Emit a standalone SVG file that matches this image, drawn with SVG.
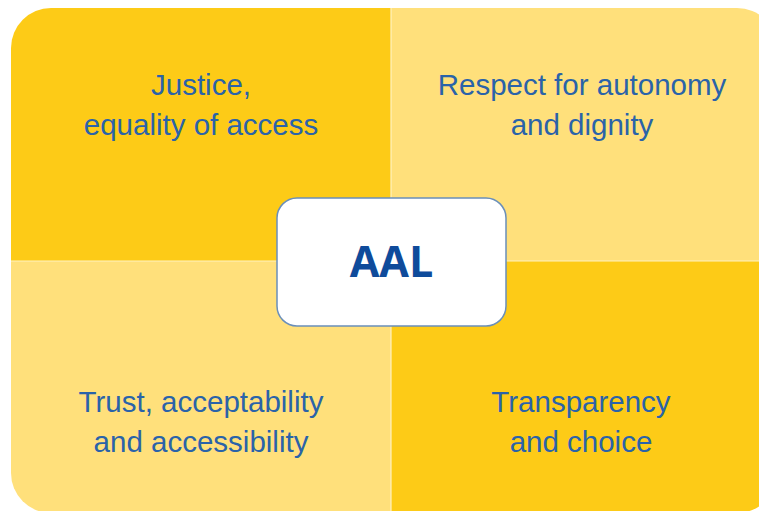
<svg xmlns="http://www.w3.org/2000/svg" width="759" height="511" viewBox="0 0 759 511">
  <defs>
    <clipPath id="outer">
      <rect x="11" y="8" width="766" height="505" rx="40" ry="40"/>
    </clipPath>
    <style>
      .dark { fill: #FDCB17; }
      .light { fill: #FFE07B; }
      .lbl { font-family: "Liberation Sans", Arial, sans-serif; font-size: 29.5px; fill: #2A63A9; text-anchor: middle; }
      .div { stroke: #FFF1C0; stroke-width: 1.2; }
      .center { fill: #FFFFFF; stroke: #6A8FBA; stroke-width: 1.5; }
      .title { font-family: "Open Sans", "Liberation Sans", Arial, sans-serif; font-weight: bold; font-size: 43px; fill: #0F4B9B; text-anchor: middle; }
    </style>
  </defs>
  <rect width="759" height="511" fill="#FFFFFF"/>
  <g clip-path="url(#outer)">
    <g id="q-justice">
      <rect class="dark" x="0" y="0" width="391" height="261"/>
    </g>
    <g id="q-respect">
      <rect class="light" x="391" y="0" width="400" height="261"/>
    </g>
    <g id="q-trust">
      <rect class="light" x="0" y="261" width="391" height="260"/>
    </g>
    <g id="q-transparency">
      <rect class="dark" x="391" y="261" width="400" height="260"/>
    </g>
    <g id="dividers">
      <line class="div" x1="391" y1="0" x2="391" y2="520"/>
      <line class="div" x1="0" y1="261" x2="790" y2="261"/>
    </g>
  </g>
  <g id="labels">
    <text class="lbl" x="201" y="95">Justice,</text>
    <text class="lbl" x="201" y="135">equality of access</text>
    <text class="lbl" x="582" y="95">Respect for autonomy</text>
    <text class="lbl" x="582" y="135">and dignity</text>
    <text class="lbl" x="201" y="412">Trust, acceptability</text>
    <text class="lbl" x="201" y="452">and accessibility</text>
    <text class="lbl" x="581" y="412">Transparency</text>
    <text class="lbl" x="581" y="452">and choice</text>
  </g>
  <g id="aal">
    <rect class="center" x="277" y="198" width="229" height="128" rx="20" ry="20"/>
    <text class="title" x="391.5" y="277">AAL</text>
  </g>
</svg>
